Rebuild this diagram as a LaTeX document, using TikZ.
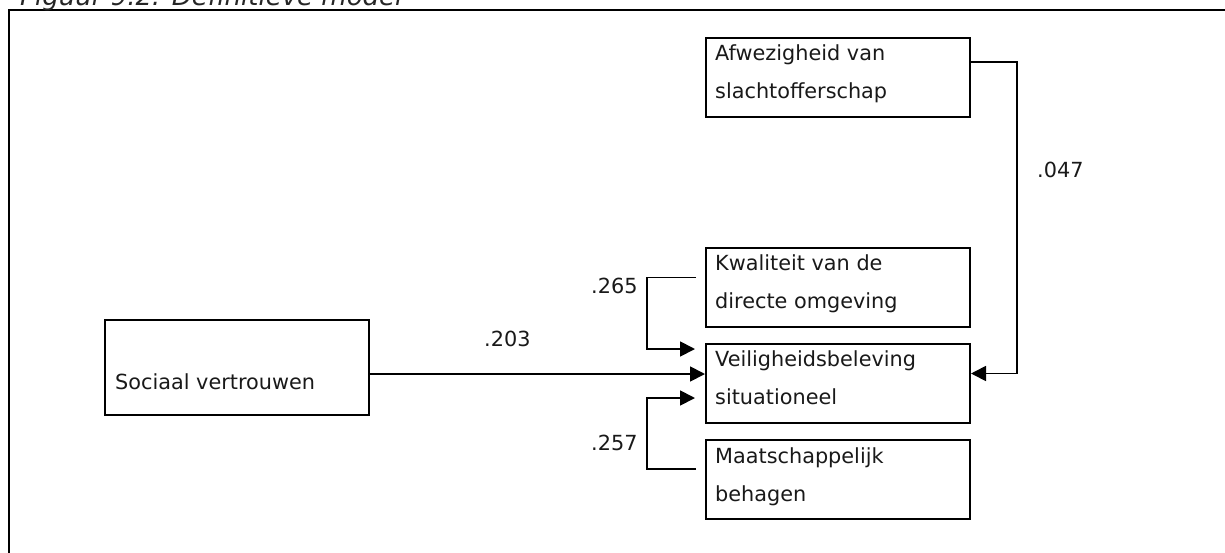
\documentclass[tikz,border=0pt]{standalone}
\usepackage{fontspec}
\setmainfont{DejaVu Sans}
\usetikzlibrary{arrows.meta,calc}
\begin{document}
\begin{tikzpicture}[x=1pt,y=-1pt,
  box/.style={draw=black,line width=2pt,minimum width=264pt,minimum height=79pt,inner sep=0pt,anchor=north west},
  txt/.style={font=\fontsize{20.8}{38}\selectfont,align=left,inner sep=0pt,anchor=north west,text=black!90},
  num/.style={font=\fontsize{20.8}{38}\selectfont,inner sep=0pt,anchor=base west,text=black!90},
  arr/.style={line width=1.8pt,-{Triangle[length=15pt,width=15pt]}}]
\useasboundingbox (0,0) rectangle (1225,552);
% frame
\coordinate (fbl) at (9,560);
\coordinate (ftl) at (9,10);
\coordinate (ftr) at (1235,10);
\draw[line width=2pt] (fbl) -- (ftl) -- (ftr);
% caption (cut off at the top edge, as in the reference)
\node[font=\fontsize{26}{28}\selectfont\itshape,inner sep=0pt,anchor=base west,text=black!85] (cap) at (20,5) {Figuur 9.2: Definitieve model};
% boxes
\node[box] (a) at (705,37) {};
\node[box] (k) at (705,246.5) {};
\node[box] (v) at (705,342.5) {};
\node[box] (m) at (705,439) {};
\node[box,minimum height=95pt] (s) at (104,319) {};
% texts
\node[txt] (ta) at ($(a.north west)+(10,7.5)$) {Afwezigheid van\\slachtofferschap};
\node[txt] (tk) at ($(k.north west)+(10,8)$) {Kwaliteit van de\\directe omgeving};
\node[txt] (tv) at ($(v.north west)+(10,8)$) {Veiligheidsbeleving\\situationeel};
\node[txt] (tm) at ($(m.north west)+(10,8)$) {Maatschappelijk\\behagen};
\node[num] (ts) at (115,389) {Sociaal vertrouwen};
% numbers
\node[num] (n203) at (484,346) {.203};
\node[num] (n265) at (591,293) {.265};
\node[num] (n257) at (591,450) {.257};
\node[num] (n047) at (1037,177) {.047};
% connector points
\coordinate (kstart) at ($(k.west)+(-9,-9.5)$);
\coordinate (kend) at ($(v.west)+(-10,-34)$);
\coordinate (mstart) at ($(m.west)+(-9,-10.5)$);
\coordinate (mend) at ($(v.west)+(-10,15)$);
\coordinate (kx) at (647,0);
\coordinate (ax) at (1017,0);
\coordinate (astart) at ($(a.east)+(0,-15.5)$);
\coordinate (aend) at ($(v.east)+(0,-9.5)$);
\coordinate (sstart) at ($(s.east)+(0,6.5)$);
\coordinate (send) at ($(v.west)+(0,-9)$);
% connectors
\draw[arr] (sstart) -- (send);
\draw[arr] (kstart) -| (kx |- kend) -- (kend);
\draw[arr] (mstart) -| (kx |- mend) -- (mend);
\draw[arr] (astart) -| (ax |- aend) -- (aend);
\end{tikzpicture}
\end{document}
